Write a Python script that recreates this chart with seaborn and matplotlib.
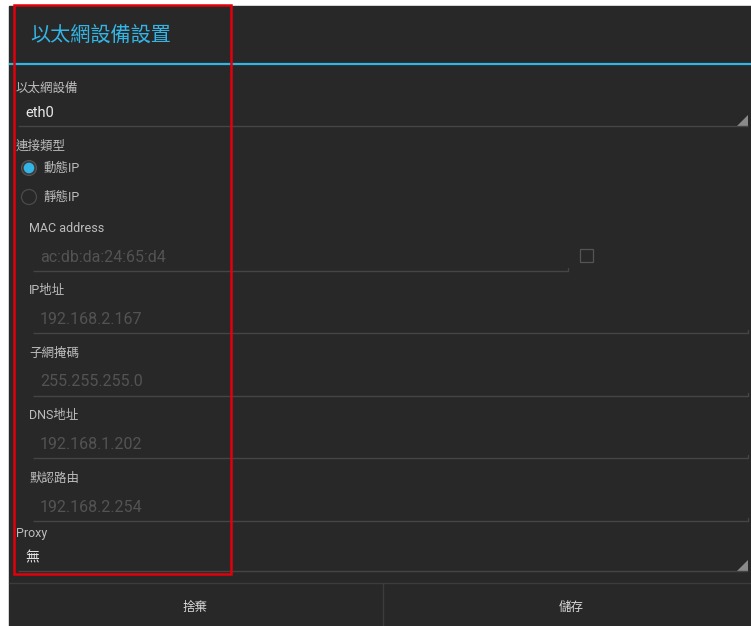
import matplotlib
matplotlib.use("Agg")
import matplotlib.pyplot as plt
import matplotlib.patches as mpatches
import seaborn as sns

# dialog content
title = "以太網設備設置"
device_label, device_value = "以太網設備", "eth0"
conn_label = "連接類型"
radio_options = ["動態IP", "靜態IP"]
radio_selected = [True, False]
ip_labels = ["MAC address", "IP地址", "子網掩碼", "DNS地址", "默認路由"]
ip_values = ["ac:db:da:24:65:d4", "192.168.2.167", "255.255.255.0", "192.168.1.202", "192.168.2.254"]
proxy_label, proxy_value = "Proxy", "無"
buttons = ["捨棄", "儲存"]

sns.set_style("dark")
plt.rcParams['font.family'] = ['Roboto', 'Noto Sans CJK TC', 'DejaVu Sans']

BG = '#282828'
BLUE = '#33b5e5'
LABEL = '#bdbdbd'
VALUE = '#e8e8e8'
HINT = '#535353'
LINE = '#454545'

fig = plt.figure(figsize=(7.51, 6.26), dpi=100)
fig.patch.set_facecolor('white')
ax = fig.add_axes([0, 0, 1, 1])
ax.set_xlim(0, 751)
ax.set_ylim(626, 0)
ax.axis('off')

# dark dialog panel
ax.add_patch(mpatches.Rectangle((9, 6), 742, 620, color=BG, zorder=0))

# title bar
ax.text(30, 35, title, color=BLUE, fontsize=14.5, va='center', ha='left')
ax.plot([9, 751], [63.5, 63.5], color=BLUE, lw=1.6, solid_capstyle='butt')


def underline(x0, x1, y, spinner=False):
    ax.plot([x0, x1], [y, y], color=LINE, lw=1.0, solid_capstyle='butt')
    if spinner:
        ax.add_patch(mpatches.Polygon([[x1, y - 11], [x1, y], [x1 - 11, y]],
                                      closed=True, color='#8a8a8a', lw=0))
    else:
        ax.plot([x1, x1], [y, y - 3], color=LINE, lw=1.0)


# ethernet device spinner
ax.text(16, 88, device_label, color=LABEL, fontsize=9, va='center')
ax.text(25, 113, device_value, color=VALUE, fontsize=10.5, va='center')
underline(18, 748, 125.5, spinner=True)

# connection type radio buttons
ax.text(16, 146, conn_label, color=LABEL, fontsize=9, va='center')
for i, (opt, sel) in enumerate(zip(radio_options, radio_selected)):
    y = 168 + i * 29
    if sel:
        ax.add_patch(mpatches.Circle((29, y), 7.5, facecolor='#3a3a3a', edgecolor='#555555', lw=0.8))
        ax.add_patch(mpatches.Circle((29, y), 4.6, color=BLUE))
    else:
        ax.add_patch(mpatches.Circle((29, y), 7.5, facecolor='none', edgecolor='#4a4a4a', lw=0.9))
    ax.text(43, y, opt, color=LABEL, fontsize=9, va='center')

# ip fields
for i, (lab, val) in enumerate(zip(ip_labels, ip_values)):
    y = 228 + i * 62.5
    ax.text(29, y, lab, color=LABEL, fontsize=9, va='center')
    ax.text(40, y + 29, val, color=HINT, fontsize=11.5, va='center')
    x1 = 568 if i == 0 else 748
    underline(33, x1, y + 42.5)

# mac checkbox
ax.add_patch(mpatches.Rectangle((579.5, 248.5), 13, 13, facecolor='none', edgecolor='#555555', lw=0.9))

# proxy spinner
ax.text(16, 533, proxy_label, color=LABEL, fontsize=9, va='center')
ax.text(25, 557, proxy_value, color=VALUE, fontsize=10, va='center')
underline(18, 748, 570.5, spinner=True)

# button bar
ax.plot([9, 751], [582.5, 582.5], color='#3c3c3c', lw=1.0)
ax.plot([383, 383], [583, 626], color='#3c3c3c', lw=1.0)
for i, b in enumerate(buttons):
    ax.text(195 + i * 376, 607, b, color='#d8d8d8', fontsize=9, va='center', ha='center')

# highlight box
ax.add_patch(mpatches.Rectangle((14, 5), 217, 569, facecolor='none', edgecolor='#e3000b', lw=1.8, zorder=5))

fig.savefig('out.png', dpi=100, facecolor=fig.get_facecolor())
